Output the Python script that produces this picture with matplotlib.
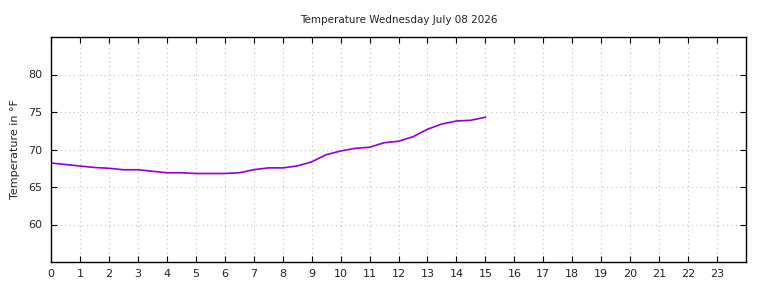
import matplotlib.pyplot as plt
import numpy as np

# hours of the day and temperature readings (deg F)
hours = [0, 0.5, 1, 1.5, 2, 2.5, 3, 3.5, 4, 4.5, 5, 5.5, 6, 6.5, 7, 7.5,
         8, 8.5, 9, 9.5, 10, 10.5, 11, 11.5, 12, 12.5, 13, 13.5, 14, 14.5, 15]
temps = [68.2, 68.0, 67.8, 67.6, 67.5, 67.3, 67.3, 67.1, 66.9, 66.9, 66.8, 66.8,
         66.8, 66.9, 67.3, 67.55, 67.55, 67.8, 68.35, 69.3, 69.8, 70.15, 70.3,
         70.9, 71.1, 71.7, 72.7, 73.4, 73.8, 73.9, 74.3]
xticks = list(range(24))
yticks = [60, 65, 70, 75, 80]
title = "Temperature Wednesday July 08 2026"

fig = plt.figure(figsize=(7.68, 2.88), dpi=100)
ax = fig.add_axes([51/768, 1-262/288, (746-51)/768, (262-37)/288])

ax.plot(hours, temps, color='#9400d3', lw=1.2)

ax.set_xlim(0, 24)
ax.set_ylim(55, 85)
ax.set_xticks(xticks)
ax.set_yticks(yticks)
ax.grid(True, color='#c0c0c0', linestyle=(0, (1, 3)), lw=0.8)
ax.tick_params(direction='in', top=True, right=True, length=4, width=0.8,
               labelsize=8, colors='black', labelcolor='#222222', pad=6)
ax.tick_params(axis='x', pad=5)
for s in ax.spines.values():
    s.set_linewidth(1)
ax.set_ylabel("Temperature in °F", fontsize=8, color='#222222', labelpad=6)
ax.set_title(title, fontsize=7.5, color='#222222', pad=10)

fig.savefig('out.png', dpi=100)
